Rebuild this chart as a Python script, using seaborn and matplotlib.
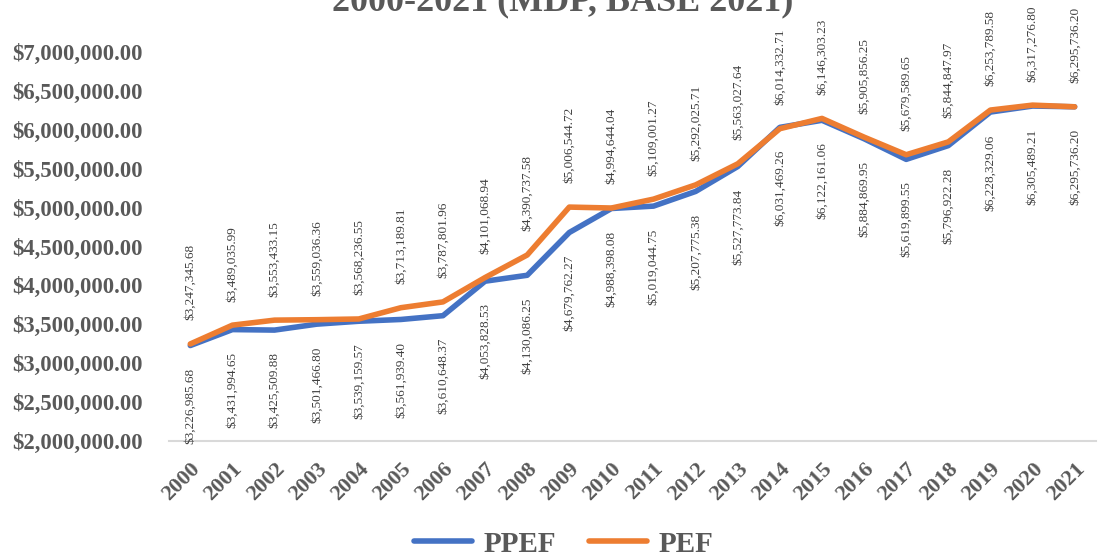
import numpy as np
import pandas as pd
import matplotlib
matplotlib.use('Agg')
import matplotlib.pyplot as plt
import seaborn as sns
from matplotlib.ticker import FuncFormatter

years = list(range(2000, 2022))
ppef = [3226985.68, 3431994.65, 3425509.88, 3501466.80, 3539159.57, 3561939.40,
        3610648.37, 4053828.53, 4130086.25, 4679762.27, 4988398.08, 5019044.75,
        5207775.38, 5527773.84, 6031469.26, 6122161.06, 5884869.95, 5619899.55,
        5796922.28, 6228329.06, 6305489.21, 6295736.20]
pef = [3247345.68, 3489035.99, 3553433.15, 3559036.36, 3568236.55, 3713189.81,
       3787801.96, 4101068.94, 4390737.58, 5006544.72, 4994644.04, 5109001.27,
       5292025.71, 5563027.64, 6014332.71, 6146303.23, 5905856.25, 5679589.65,
       5844847.97, 6253789.58, 6317276.80, 6295736.20]
series = ['PPEF', 'PEF']
colors = ['#4472C4', '#ED7D31']

df = pd.DataFrame({
    'year': years * 2,
    'valor': ppef + pef,
    'serie': ['PPEF'] * len(years) + ['PEF'] * len(years),
})

sns.set_theme(style='white')
plt.rcParams['font.family'] = ['Liberation Serif', 'DejaVu Serif']
gray = '#595959'

fig = plt.figure(figsize=(10.99, 5.58), dpi=100)
ax = fig.add_axes([0.154, 0.2097, 0.843, 0.6971])

sns.lineplot(data=df, x='year', y='valor', hue='serie', hue_order=series,
             palette=colors, linewidth=4, ax=ax, legend=False)

ax.set_xlim(years[0] - 0.5, years[-1] + 0.5)
ax.set_ylim(2000000, 7000000)
ax.set_yticks(np.arange(2000000, 7000001, 500000))
ax.yaxis.set_major_formatter(FuncFormatter(lambda v, p: f'${v:,.2f}'))
ax.set_xticks(years)
ax.set_xticklabels([str(y) for y in years], rotation=45, ha='right',
                   rotation_mode='anchor')
ax.tick_params(axis='x', labelsize=16, colors=gray, length=0, pad=13)
ax.tick_params(axis='y', labelsize=16.3, colors=gray, length=0, pad=19)
for lab in ax.get_xticklabels() + ax.get_yticklabels():
    lab.set_fontweight('bold')
ax.set_xlabel('')
ax.set_ylabel('')
ax.grid(False)
for side in ['top', 'right', 'left']:
    ax.spines[side].set_visible(False)
ax.spines['bottom'].set_color('#D9D9D9')
ax.spines['bottom'].set_linewidth(1.5)

# data labels: PEF above, PPEF below
for x, v in zip(years, pef):
    ax.annotate(f'${v:,.2f}', (x, v), xytext=(0, 17), textcoords='offset points',
                rotation=90, ha='center', va='bottom', fontsize=9.5, color='#404040')
for x, v in zip(years, ppef):
    ax.annotate(f'${v:,.2f}', (x, v), xytext=(0, -16), textcoords='offset points',
                rotation=90, ha='center', va='top', fontsize=9.5, color='#404040')

# title is partly cut by the top edge, as in the source image
fig.text(0.512, 1 - 10 / 558, '2000-2021 (MDP, BASE 2021)', ha='center',
         va='baseline', fontsize=26, fontweight='bold', color=gray)

handles = [plt.Line2D([], [], color=c, linewidth=4, solid_capstyle='round') for c in colors]
leg = fig.legend(handles, series, loc='center', bbox_to_anchor=(0.513, 0.025),
                 ncol=2, frameon=False, handlelength=2.0, handletextpad=0.4,
                 columnspacing=1.1, borderpad=0.2, prop={'size': 21, 'weight': 'bold'})
for t in leg.get_texts():
    t.set_color(gray)

fig.savefig('out.png', dpi=100)
